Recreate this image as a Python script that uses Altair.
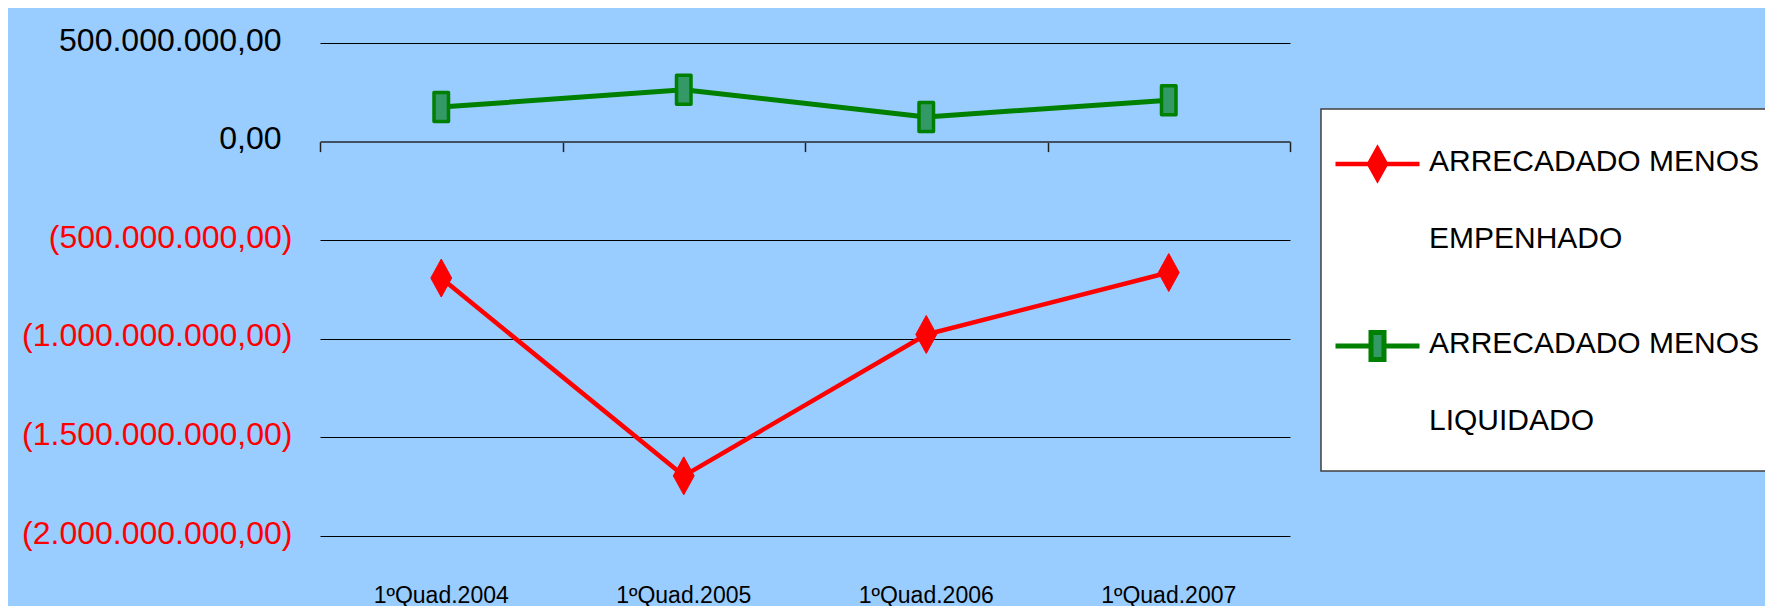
import altair as alt
import pandas as pd

# ---- data ----
periods = ["1ºQuad.2004", "1ºQuad.2005", "1ºQuad.2006", "1ºQuad.2007"]
series_names = ["ARRECADADO MENOS EMPENHADO", "ARRECADADO MENOS LIQUIDADO"]
empenhado = [-692e6, -1695e6, -978e6, -664e6]
liquidado = [175e6, 263e6, 125e6, 210e6]
y_tick_values = [500e6, 0, -500e6, -1000e6, -1500e6, -2000e6]
y_domain = [-2000e6, 500e6]

# ---- styles ----
line_colors = ["#FF0000", "#008000"]
marker_fills = ["#FF0000", "#339966"]
line_widths = [4.5, 5]
FONT = "Liberation Sans, Arial, sans-serif"

DIAMOND = "M0,-1L0.55,0L0,1L-0.55,0Z"
RECT = "M-0.5,-1H0.5V1H-0.5Z"
LEG_DIAM = "M-1,-0.155H-0.2M0.2,-0.155H1M0,-0.515L0.2,-0.155L0,0.205L-0.2,-0.155Z"
LEG_RECT = "M-1,-0.155H-0.155M0.155,-0.155H1M-0.155,-0.475H0.155V0.165H-0.155ZM0,2.29"

rows = [(p, series_names[0], v) for p, v in zip(periods, empenhado)] + \
       [(p, series_names[1], v) for p, v in zip(periods, liquidado)]
df = pd.DataFrame(rows, columns=["period", "series", "value"])

PLOT_W, PLOT_H = 970, 493

x_scale = alt.Scale(type="band", domain=periods, paddingInner=0, paddingOuter=0)
y_scale = alt.Scale(domain=y_domain, nice=False, zero=False)

# Brazilian number format; negatives in parentheses (red), positives plain (black)
num_expr = "replace(format(abs(datum.value), ','), /,/g, '.') + ',00'"
neg_label_expr = "datum.value < 0 ? '(' + " + num_expr + " + ')' : ''"
pos_label_expr = "datum.value >= 0 ? " + num_expr + " : ''"

y_neg = alt.Y(
    "value:Q", scale=y_scale, title=None,
    axis=alt.Axis(orient="left", values=y_tick_values, labelExpr=neg_label_expr,
                  labelColor="#FF0000", labelFont=FONT, labelFontSize=32,
                  labelPadding=28, labelOffset=-3, labelLimit=500,
                  domain=False, ticks=False, tickSize=0, grid=True,
                  gridColor="#000000", gridWidth=1),
)
y_pos = alt.Y(
    "value:Q", scale=y_scale, title=None,
    axis=alt.Axis(orient="left", values=y_tick_values, labelExpr=pos_label_expr,
                  labelColor="black", labelFont=FONT, labelFontSize=32,
                  labelPadding=39, labelOffset=-3, labelLimit=500,
                  domain=False, ticks=False, tickSize=0, grid=False),
)
y_plain = alt.Y("value:Q", scale=y_scale, title=None, axis=None)

x_label_enc = alt.X(
    "period:N", scale=x_scale, bandPosition=0.5, title=None,
    axis=alt.Axis(orient="bottom", domain=False, ticks=False, grid=False, labelAngle=0,
                  labelFont=FONT, labelFontSize=23, labelColor="black", labelPadding=48),
)
x_tick_enc = alt.X(
    "period:N", scale=x_scale, bandPosition=0.5, title=None,
    axis=alt.Axis(orient="bottom", offset=-0.8 * PLOT_H, domain=True, domainColor="#405060",
                  domainWidth=2, ticks=True, tickBand="extent", tickSize=10,
                  tickColor="#202020", tickWidth=1.5, labels=False, grid=False),
)
x_plain_enc = alt.X("period:N", scale=x_scale, bandPosition=0.5, title=None, axis=None)

legend = alt.Legend(
    title=" ", titleFontSize=4, titlePadding=1,
    labelExpr="[split(datum.label, ' ')[0] + ' ' + split(datum.label, ' ')[1], split(datum.label, ' ')[2]]",
    symbolFillColor="white", symbolStrokeColor="black", symbolOpacity=1,
    symbolStrokeWidth=4, symbolSize=7056,
)

stroke_enc = alt.Stroke("series:N", scale=alt.Scale(domain=series_names, range=line_colors), legend=legend)
fill_enc = alt.Fill("series:N", scale=alt.Scale(domain=series_names, range=marker_fills), legend=legend)
shape_enc = alt.Shape("series:N", scale=alt.Scale(domain=series_names, range=[LEG_DIAM, LEG_RECT]), legend=legend)
width_enc = alt.StrokeWidth("series:N", scale=alt.Scale(domain=series_names, range=line_widths), legend=None)

base = alt.Chart(df)

lines = base.mark_line(strokeJoin="round").encode(
    x=x_label_enc, y=y_neg, stroke=stroke_enc, strokeWidth=width_enc, detail="series:N")

red_pts = base.transform_filter(alt.datum.series == series_names[0]).mark_point(
    shape=DIAMOND, filled=True, size=1444, strokeWidth=1, opacity=1
).encode(x=x_tick_enc, y=y_pos, fill=fill_enc, stroke=stroke_enc)

green_pts = base.transform_filter(alt.datum.series == series_names[1]).mark_point(
    shape=RECT, filled=True, size=841, strokeWidth=3.5, opacity=1, strokeJoin="round"
).encode(x=x_plain_enc, y=y_plain, fill=fill_enc, stroke=stroke_enc)

legend_carrier = base.transform_filter("false").mark_point(filled=True).encode(
    shape=shape_enc, fill=fill_enc, stroke=stroke_enc)

chart = alt.layer(lines, red_pts, green_pts, legend_carrier).resolve_axis(
    x="independent", y="independent"
).properties(
    width=PLOT_W, height=PLOT_H, background="#99CCFF",
    autosize=alt.AutoSizeParams(type="none"),
    padding={"left": 312, "top": 35, "right": 475, "bottom": 70},
).configure(
    style={"guide-label": {"lineHeight": 77}}
).configure_view(stroke=None).configure_legend(
    orient="none", legendX=1001, legendY=66, padding=12,
    fillColor="white", strokeColor="#404040", strokeWidth=1.5,
    labelFont=FONT, labelFontSize=30, labelColor="black", labelBaseline="alphabetic",
    labelOffset=7, labelLimit=1000, rowPadding=54,
)

chart.save("out.html", embed_options={"renderer": "svg", "actions": False})
